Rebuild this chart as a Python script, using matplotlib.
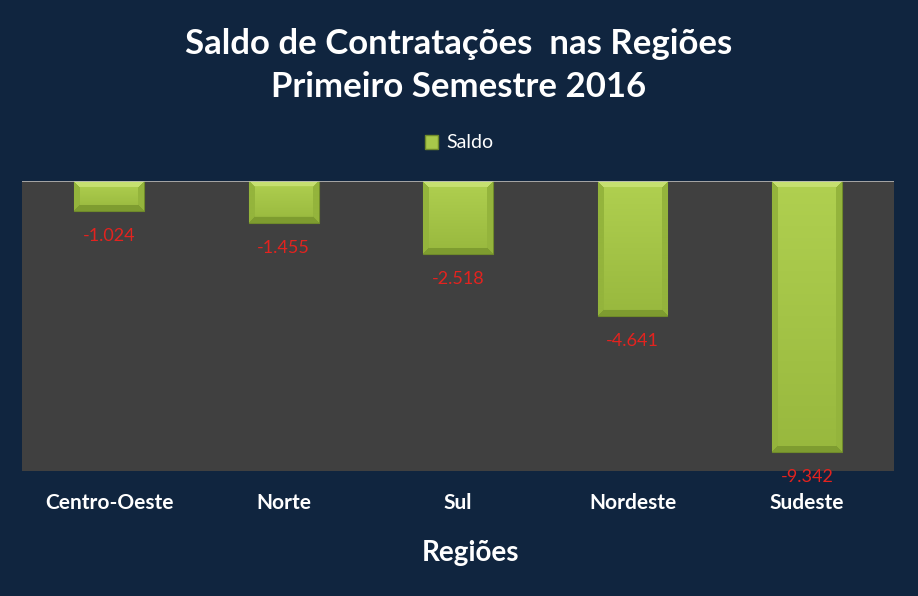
import matplotlib.pyplot as plt
import numpy as np
from matplotlib.patches import Patch
from matplotlib.colors import to_rgb

regions = ["Centro-Oeste", "Norte", "Sul", "Nordeste", "Sudeste"]
saldo = [-1024, -1455, -2518, -4641, -9342]

bg = "#10253f"
plot_bg = "#404040"
red = "#e3231f"

plt.rcParams["font.family"] = ["Lato", "DejaVu Sans"]


def fmt(v):
    return f"{v:,}".replace(",", ".")


def bevel_image(w_px, h_px, bevel=6):
    # face with vertical gradient, lighter top edge, darker bottom and sides
    face_top = np.array(to_rgb("#b0d050"))
    face_bot = np.array(to_rgb("#98b83e"))
    top = np.array(to_rgb("#c6e070"))
    bottom = np.array(to_rgb("#7e9c30"))
    side = np.array(to_rgb("#94b43c"))
    yy, xx = np.mgrid[0:h_px, 0:w_px]
    t = (yy / max(h_px - 1, 1))[..., None]
    img = face_top * (1 - t) + face_bot * t
    d_top = yy
    d_bot = h_px - 1 - yy
    d_side = np.minimum(xx, w_px - 1 - xx)
    img[d_side < bevel] = side
    img[(d_top < bevel) & (d_top <= d_side)] = top
    img[(d_bot < bevel) & (d_bot <= d_side)] = bottom
    return img


def draw() -> None:
    fig = plt.figure(figsize=(9.18, 5.96), dpi=100, facecolor=bg)
    ax = fig.add_axes([0.024, 0.210, 0.950, 0.486])
    ax.set_facecolor(plot_bg)

    x = np.arange(len(regions))
    ax.set_xlim(-0.5, len(regions) - 0.5)
    ax.set_ylim(-10000, 0)
    bars = ax.bar(x, saldo, width=0.4, color="#a2c248", edgecolor="#6f8a2a",
                  linewidth=0.8, zorder=2)

    fig.canvas.draw()
    for b in bars:
        bb = b.get_window_extent()
        w_px, h_px = int(round(bb.width)), int(round(bb.height))
        img = bevel_image(max(w_px, 2), max(h_px, 2))
        x0, w = b.get_x(), b.get_width()
        im = ax.imshow(img, extent=[x0, x0 + w, b.get_height(), 0], aspect="auto",
                       zorder=2.5, interpolation="bilinear", origin="upper")
        im.set_clip_path(b)

    for xi, v in zip(x, saldo):
        ax.annotate(fmt(v), (xi, v), xytext=(0, -18), textcoords="offset points",
                    ha="center", va="center", color=red, fontsize=13, zorder=4)

    ax.axhline(0, color="#b8b8b8", linewidth=1.2, zorder=3)
    ax.set_yticks([])
    ax.set_xticks(x)
    ax.set_xticklabels(regions, color="white", fontsize=15, fontweight="bold")
    ax.tick_params(axis="x", length=0, pad=16)
    for s in ax.spines.values():
        s.set_visible(False)

    fig.text(0.5, 1 - 44 / 596, "Saldo de Contratações  nas Regiões", ha="center",
             va="center", color="white", fontsize=25, fontweight="bold")
    fig.text(0.5, 1 - 87 / 596, "Primeiro Semestre 2016", ha="center",
             va="center", color="white", fontsize=25, fontweight="bold")
    fig.text(470 / 918, 1 - 553 / 596, "Regiões", ha="center", va="center",
             color="white", fontsize=20, fontweight="bold")

    handle = Patch(facecolor="#a8c84a", edgecolor="#6f8a2a")
    fig.legend([handle], ["Saldo"], loc="center", bbox_to_anchor=(0.5, 1 - 143 / 596),
               frameon=False, fontsize=14, handlelength=0.7, handleheight=0.7,
               handletextpad=0.4, labelcolor="white")

    plt.savefig("out.png", dpi=100, facecolor=bg)


draw()
